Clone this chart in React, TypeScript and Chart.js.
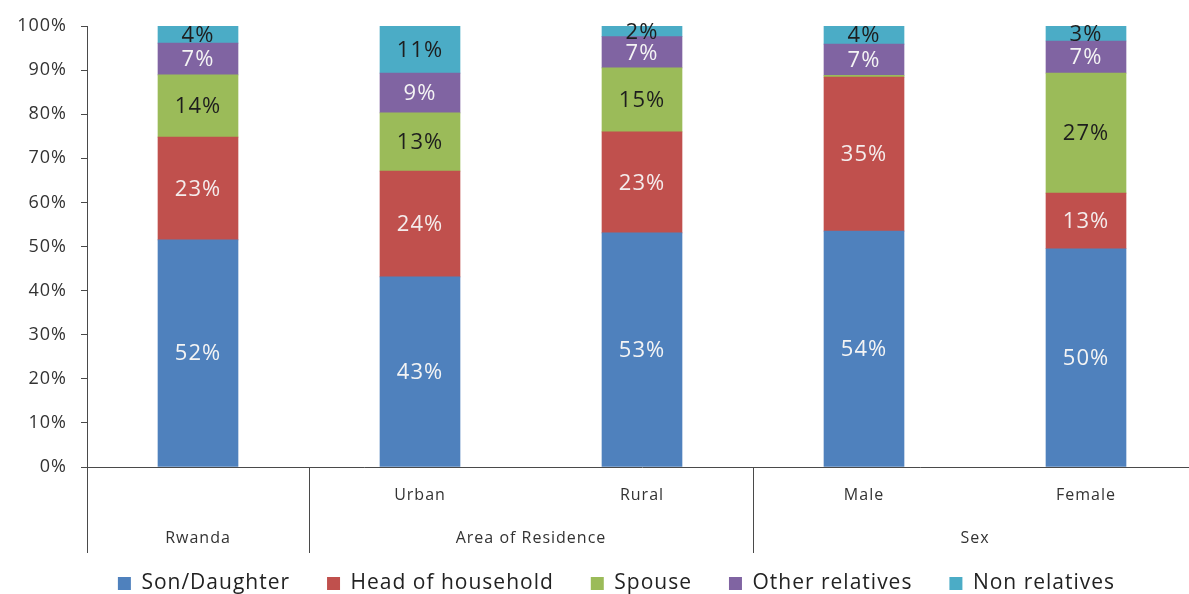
import React, { useEffect, useRef } from "react";
import { Chart, registerables } from "chart.js";

Chart.register(...registerables);

// Categories (bottom row = group, top row = sub-category)
const categories = ["Rwanda", "Urban", "Rural", "Male", "Female"];
const subLabels = ["", "Urban", "Rural", "Male", "Female"];
const groupLabels = ["Rwanda", "Area of Residence", "Sex"];
const groupStart = [0, 1, 3];
const groupEnd = [0, 2, 4];

// Series values (% of persons by relationship to head of household)
const sonDaughter = [51.5, 43.1, 53.1, 53.5, 49.5];
const headOfHousehold = [23.3, 24.0, 22.9, 34.9, 12.6];
const spouse = [14.1, 13.2, 14.5, 0.4, 27.2];
const otherRelatives = [7.2, 9.0, 7.1, 7.1, 7.3];
const nonRelatives = [3.9, 10.7, 2.4, 4.1, 3.4];

const seriesNames = ["Son/Daughter", "Head of household", "Spouse", "Other relatives", "Non relatives"];
const seriesColors = ["#4F81BD", "#C0504D", "#9BBB59", "#8064A2", "#4BACC6"];
const labelColors = ["#F4F4F4", "#F4ECEC", "#1E1E1E", "#F4F4F4", "#1E1E1E"];

const yTicks = [0, 10, 20, 30, 40, 50, 60, 70, 80, 90, 100];

const FONT = "'Open Sans', 'Noto Sans', sans-serif";
const SPACING = "1px";

export default function App() {
  const ref = useRef<HTMLCanvasElement | null>(null);

  useEffect(() => {
    if (!ref.current) return;
    const series = [sonDaughter, headOfHousehold, spouse, otherRelatives, nonRelatives];

    const spacingPlugin = {
      id: "spacing",
      beforeUpdate(chart: any) {
        chart.ctx.letterSpacing = SPACING;
      },
      afterLayout(chart: any) {
        if (chart.legend) chart.legend.left += 36;
      },
      beforeDraw(chart: any) {
        chart.ctx.letterSpacing = SPACING;
      },
    };

    const labelsPlugin = {
      id: "segLabels",
      afterDatasetsDraw(chart: any) {
        const ctx = chart.ctx;
        ctx.save();
        ctx.letterSpacing = SPACING;
        ctx.font = `22px ${FONT}`;
        ctx.textAlign = "center";
        ctx.textBaseline = "middle";
        chart.data.datasets.forEach((ds: any, di: number) => {
          const meta = chart.getDatasetMeta(di);
          meta.data.forEach((bar: any, i: number) => {
            const v = ds.data[i];
            if (v < 1) return;
            ctx.fillStyle = labelColors[di];
            ctx.fillText(Math.round(v) + "%", bar.x, (bar.y + bar.base) / 2 + 1);
          });
        });
        ctx.restore();
      },
    };

    const axisPlugin = {
      id: "multiAxis",
      afterDraw(chart: any) {
        const ctx = chart.ctx;
        const xs = chart.scales.x;
        const area = chart.chartArea;
        const bottom = area.bottom;
        ctx.save();
        ctx.strokeStyle = "#4a4a4a";
        ctx.lineWidth = 1;
        const step = xs.getPixelForValue(1) - xs.getPixelForValue(0);
        const seps = [area.left];
        groupEnd.forEach((e) => seps.push(Math.round(xs.getPixelForValue(e) + step / 2)));
        seps.forEach((x) => {
          ctx.beginPath();
          ctx.moveTo(Math.round(x) + 0.5, bottom);
          ctx.lineTo(Math.round(x) + 0.5, bottom + 86);
          ctx.stroke();
        });
        ctx.letterSpacing = SPACING;
        ctx.fillStyle = "#333333";
        ctx.font = `16px ${FONT}`;
        ctx.textAlign = "center";
        ctx.textBaseline = "middle";
        subLabels.forEach((l, i) => {
          if (l) ctx.fillText(l, xs.getPixelForValue(i), bottom + 28);
        });
        groupLabels.forEach((g, gi) => {
          const x = (xs.getPixelForValue(groupStart[gi]) + xs.getPixelForValue(groupEnd[gi])) / 2;
          ctx.fillText(g, x, bottom + 71);
        });
        ctx.restore();
      },
    };

    const chart = new Chart(ref.current, {
      type: "bar",
      data: {
        labels: categories,
        datasets: series.map((d, i) => ({
          label: seriesNames[i],
          data: d,
          backgroundColor: seriesColors[i],
          borderWidth: 0,
          barThickness: 80,
        })),
      },
      options: {
        animation: false,
        responsive: false,
        devicePixelRatio: 1,
        layout: { padding: { top: 26, right: 13, left: 0, bottom: 0 } },
        plugins: {
          tooltip: { enabled: false },
          legend: {
            position: "bottom",
            labels: {
              boxWidth: 13,
              boxHeight: 13,
              padding: 37,
              color: "#222222",
              font: { family: FONT, size: 21 },
            },
          },
        },
        scales: {
          x: {
            stacked: true,
            offset: true,
            ticks: { display: false },
            grid: { display: false },
            border: { display: true, color: "#4a4a4a", width: 1 },
            afterFit(scale: any) {
              scale.height = 69;
            },
          },
          y: {
            stacked: true,
            min: 0,
            max: 100,
            afterBuildTicks(scale: any) {
              scale.ticks = yTicks.map((v) => ({ value: v }));
            },
            ticks: {
              padding: 14,
              color: "#333333",
              font: { family: FONT, size: 18 },
              callback: (v: any) => v + "%",
            },
            grid: { display: true, drawOnChartArea: false, drawTicks: true, tickLength: 6, color: "#4a4a4a" },
            border: { display: true, color: "#4a4a4a", width: 1 },
            afterFit(scale: any) {
              scale.width = 87;
            },
          },
        },
      },
      plugins: [spacingPlugin, labelsPlugin, axisPlugin],
    });
    return () => chart.destroy();
  }, []);

  return (
    <div
      style={{
        position: "fixed",
        left: 0,
        top: 0,
        width: 1189,
        height: 594,
        overflow: "hidden",
        background: "#ffffff",
      }}
    >
      <canvas ref={ref} width={1210} height={604} style={{ display: "block", width: 1210, height: 604 }} />
    </div>
  );
}
